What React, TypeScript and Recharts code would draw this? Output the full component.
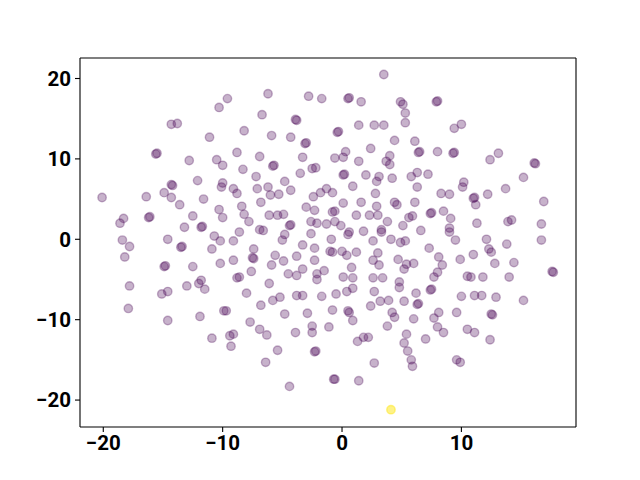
import { ScatterChart, Scatter, XAxis, YAxis, ReferenceLine } from "recharts";

// cluster points (group 0)
const purplePoints: [number, number][] = [
  [-14.3, 14.3], [-13.8, 14.4], [-15.6, 10.6], [-15.5, 10.7], [-12.8, 9.8], [-12.1, 7.3], [-14.2, 6.7], [-14.3, 6.8],
  [-9.6, 17.5], [-10.3, 16.4], [-6.2, 18.1], [-2.8, 17.8], [-1.7, 17.5], [-6.7, 15.5], [-3.8, 14.8], [-3.9, 14.9],
  [-8.2, 13.5], [-11.1, 12.7], [-5.9, 12.9], [-4.3, 12.7], [-3.1, 11.9], [-3.0, 12.0], [-8.8, 10.8], [-6.9, 10.3],
  [-3.3, 10.2], [-10.5, 9.9], [-10.0, 9.2], [-8.3, 8.7], [-5.8, 9.1], [-5.7, 9.2], [-2.5, 8.8], [-2.2, 8.9],
  [-7.2, 7.8], [-3.5, 8.2], [-10.0, 7.0], [-10.1, 6.5], [-4.8, 7.2],
  [3.5, 20.5], [0.5, 17.5], [0.6, 17.6], [1.6, 17.1], [4.9, 17.1], [5.1, 16.8], [7.9, 17.1], [8.0, 17.2],
  [5.3, 15.7], [5.3, 14.5], [1.4, 14.2], [2.7, 14.2], [3.5, 14.2], [-0.4, 13.3], [-0.3, 13.4], [4.4, 12.3], [6.1, 12.2],
  [2.4, 11.3], [0.3, 10.9], [0.1, 10.2], [-0.6, 10.1], [1.4, 9.7], [4.0, 10.4], [3.7, 9.7], [4.0, 9.3],
  [6.4, 10.8], [6.5, 10.9], [8.0, 10.9], [0.1, 8.0], [0.2, 8.1], [2.0, 8.0], [3.1, 7.8], [2.9, 7.2], [4.2, 7.6],
  [5.8, 7.8], [6.3, 8.3], [7.2, 8.1],
  [9.4, 13.8], [10.0, 14.3], [9.3, 10.7], [9.4, 10.8], [12.4, 9.9], [13.1, 10.7], [16.2, 9.4], [16.1, 9.5],
  [15.2, 7.7], [10.2, 7.1], [10.1, 6.5], [13.7, 6.3],
  [-1.3, 6.3], [-0.8, 5.8], [-1.8, 5.8], [0.9, 6.6], [2.8, 5.7], [6.3, 6.5], [8.3, 5.7],
  [-20.1, 5.2], [-16.4, 5.3], [-14.9, 5.8], [-14.3, 5.2], [-13.6, 4.3], [-11.6, 5.0], [-18.3, 2.6], [-18.6, 2.0],
  [-16.2, 2.7], [-16.1, 2.8], [-12.5, 2.9], [-13.2, 1.5], [-11.8, 1.5], [-11.7, 1.6], [-18.4, -0.1], [-17.8, -0.9],
  [-14.6, 0.0], [-13.5, -1.0], [-13.4, -0.9], [-18.2, -2.2], [-14.9, -3.4], [-14.8, -3.3], [-12.5, -3.4],
  [-11.8, -5.1], [-12.0, -5.5], [-11.5, -6.2], [-13.0, -5.8], [-17.8, -5.8], [-14.6, -6.5], [-15.1, -6.8], [-17.9, -8.6],
  [-9.1, 6.3], [-8.8, 5.7], [-7.1, 6.3], [-6.2, 6.5], [-4.3, 6.1], [-6.0, 5.5], [-5.3, 5.6], [-6.8, 4.6], [-8.4, 4.1],
  [-10.3, 3.7], [-8.2, 3.1], [-10.0, 2.7], [-7.8, 2.2], [-6.1, 3.0], [-5.4, 3.0], [-4.9, 3.1], [-2.4, 5.3], [-3.0, 4.0],
  [-2.3, 3.6], [-2.6, 2.2], [-2.1, 2.0], [-4.4, 1.7], [-4.3, 1.8], [-6.9, 1.2], [-6.6, 1.1], [-8.6, 0.9], [-4.8, 0.6],
  [-5.0, -0.1], [-2.6, 0.7], [-10.7, 0.4], [-10.2, -0.2], [-9.1, -0.2], [-10.9, -1.2], [-7.4, -1.2], [-7.4, -2.4],
  [-7.5, -2.3], [-5.6, -2.0], [-3.3, -0.7], [-2.3, -1.1], [-3.8, -2.1], [-10.2, -3.0], [-9.1, -2.6], [-5.9, -3.2],
  [-4.9, -2.7], [-2.3, -2.6], [-7.6, -4.0], [-4.5, -4.3], [-3.8, -4.5], [-3.3, -3.7], [-2.1, -4.3], [-2.1, -5.0],
  [-8.8, -4.8], [-8.6, -4.7], [-6.1, -5.5], [-8.0, -6.7], [-5.8, -7.6], [-5.2, -7.2], [-3.8, -7.0], [-3.3, -7.0],
  [-1.7, -7.1], [-6.8, -8.2],
  [1.6, 4.6], [2.9, 4.1], [4.4, 4.6], [4.6, 4.3], [6.1, 4.6], [0.1, 4.5], [-0.6, 3.5], [-0.8, 3.4], [1.2, 3.0],
  [2.3, 3.0], [3.0, 3.0], [5.6, 2.7], [5.9, 2.9], [7.4, 3.2], [7.5, 3.3], [8.5, 3.5], [-1.3, 1.9], [-0.6, 2.2],
  [-0.1, 1.7], [3.8, 2.2], [5.1, 1.7], [3.3, 1.2], [3.3, 0.9], [0.6, 0.9], [0.5, 0.6], [1.8, 1.0], [6.6, 1.1],
  [-0.9, 0.0], [2.6, -0.2], [4.1, 0.0], [4.9, -0.4], [5.3, -0.2], [7.3, -1.1], [-1.0, -1.5], [-0.8, -1.6], [0.0, -1.5],
  [0.4, -2.0], [1.2, -1.6], [3.0, -1.7], [2.6, -2.6], [3.1, -3.2], [4.7, -2.5], [5.4, -3.1], [6.0, -3.0], [5.2, -3.7],
  [8.1, -2.2], [8.4, -3.2], [8.0, -4.1], [7.7, -4.7], [-1.5, -3.9], [0.8, -3.5], [0.1, -4.7], [0.9, -4.8], [2.6, -4.8],
  [3.4, -4.8], [4.8, -5.3], [4.8, -6.0], [0.4, -6.5], [0.9, -6.1], [2.7, -6.5], [6.2, -6.7], [7.4, -6.3], [7.5, -6.2],
  [-0.5, -6.8], [3.2, -7.7], [3.9, -7.6], [5.2, -7.7], [6.3, -8.1], [6.4, -8.0], [2.4, -8.3],
  [9.0, 5.6], [11.0, 5.1], [11.1, 5.2], [11.2, 4.3], [12.2, 5.6], [16.9, 4.7], [9.1, 2.6], [11.3, 2.0], [13.9, 2.2],
  [14.2, 2.4], [16.7, 1.9], [9.0, 1.4], [9.0, 0.9], [9.5, -0.1], [12.1, 0.0], [13.8, -0.6], [16.7, -0.1], [12.3, -1.2],
  [12.5, -1.6], [11.0, -1.9], [9.9, -2.5], [12.8, -3.0], [14.4, -2.9], [10.5, -4.6], [10.8, -4.7], [11.8, -4.7],
  [14.0, -4.7], [17.7, -4.1], [17.6, -4.0], [10.0, -7.1], [11.1, -7.0], [11.7, -7.0], [12.9, -7.2], [15.2, -7.6],
  [-11.9, -9.6], [-14.6, -10.1], [-9.9, -8.9], [-9.7, -8.9], [-4.8, -9.3], [-2.9, -9.2], [-7.7, -10.3], [-6.9, -11.2],
  [-6.3, -11.9], [-10.9, -12.3], [-9.4, -12.0], [-9.1, -11.8], [-9.3, -13.3], [-3.9, -11.6], [-2.5, -10.8],
  [-2.5, -11.6], [-5.4, -13.8], [-2.3, -14.0], [-2.2, -13.9], [-6.4, -15.3], [-4.4, -18.3],
  [-0.8, -8.8], [0.5, -8.9], [0.6, -9.1], [0.9, -10.1], [-1.1, -10.9], [4.2, -9.1], [4.4, -9.7], [6.0, -9.9],
  [8.1, -9.1], [7.7, -9.8], [8.0, -10.9], [8.5, -11.6], [3.8, -10.8], [5.4, -11.8], [7.0, -12.4], [1.8, -12.2],
  [2.2, -12.2], [1.3, -12.7], [5.2, -12.9], [5.5, -13.9], [5.8, -15.0], [5.9, -15.8], [2.7, -15.4],
  [-0.7, -17.4], [-0.6, -17.4], [1.4, -17.6],
  [9.6, -9.1], [12.5, -9.3], [12.6, -9.4], [10.5, -11.2], [11.1, -11.6], [12.4, -12.5], [9.6, -15.0], [9.9, -15.3],
];

// the single outlier (group 1)
const yellowPoints: [number, number][] = [[4.1, -21.2]];

const xTicks = [-20, -10, 0, 10];
const yTicks = [-20, -10, 0, 10, 20];
const xDomain: [number, number] = [-21.95, 19.6];
const yDomain: [number, number] = [-23.35, 22.55];

const toRows = (pts: [number, number][]) => pts.map(([x, y]) => ({ x, y }));
const fmt = (v: number) => (v < 0 ? `\u2212${Math.abs(v)}` : `${v}`);

const tickStyle = {
  fill: "#000",
  fontSize: 20.5,
  fontWeight: 700,
  fontFamily: "Roboto",
};

function dot(color: string, alpha: number) {
  return (props: any) => (
    <circle
      cx={props.cx}
      cy={props.cy}
      r={4.2}
      fill={color}
      fillOpacity={alpha}
      stroke={color}
      strokeOpacity={alpha}
      strokeWidth={1.4}
    />
  );
}

export default function App() {
  return (
    <div style={{ width: 640, height: 480, background: "#fff" }}>
      <style>{`body{margin:0}`}</style>
      <ScatterChart
        width={640}
        height={480}
        margin={{ top: 58, right: 64, left: 20, bottom: 23 }}
      >
        <XAxis
          type="number"
          dataKey="x"
          domain={xDomain}
          ticks={xTicks}
          allowDataOverflow
          height={30}
          tickFormatter={fmt}
          tick={tickStyle}
          tickSize={5}
          tickMargin={3}
          axisLine={{ stroke: "#000", strokeWidth: 1.1 }}
          tickLine={{ stroke: "#000", strokeWidth: 1.1 }}
        />
        <YAxis
          type="number"
          dataKey="y"
          domain={yDomain}
          ticks={yTicks}
          allowDataOverflow
          width={60}
          tickFormatter={fmt}
          tick={tickStyle}
          tickSize={5}
          tickMargin={4}
          axisLine={{ stroke: "#000", strokeWidth: 1.1 }}
          tickLine={{ stroke: "#000", strokeWidth: 1.1 }}
        />
        <Scatter
          data={toRows(purplePoints)}
          shape={dot("#440154", 0.3)}
          isAnimationActive={false}
        />
        <Scatter
          data={toRows(yellowPoints)}
          shape={dot("#fde725", 0.55)}
          isAnimationActive={false}
        />
        <ReferenceLine x={xDomain[1]} stroke="#000" strokeWidth={1.1} />
        <ReferenceLine y={yDomain[1]} stroke="#000" strokeWidth={1.1} />
      </ScatterChart>
    </div>
  );
}
